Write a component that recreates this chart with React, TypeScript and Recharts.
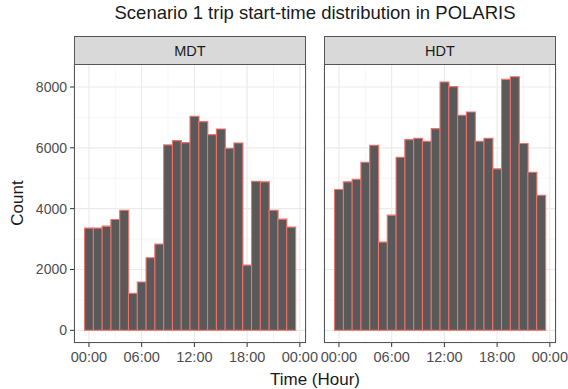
import { BarChart, Bar, XAxis, YAxis, CartesianGrid } from 'recharts';

const hours = [0, 1, 2, 3, 4, 5, 6, 7, 8, 9, 10, 11, 12, 13, 14, 15, 16, 17, 18, 19, 20, 21, 22, 23];
const mdtCounts = [3360, 3360, 3425, 3645, 3950, 1215, 1587, 2386, 2835, 6096, 6238, 6172, 7037, 6862, 6435, 6621, 5986, 6161, 2145, 4903, 4881, 3950, 3655, 3393];
const hdtCounts = [4629, 4881, 4968, 5527, 6085, 2900, 3787, 5691, 6271, 6315, 6216, 6632, 8164, 8011, 7070, 7179, 6216, 6315, 5308, 8252, 8339, 6140, 5198, 4443];
const xTicks = [0, 6, 12, 18, 24];
const xMinorTicks = [3, 9, 15, 21];
const yTicks = [0, 2000, 4000, 6000, 8000];
const yMinorTicks = [1000, 3000, 5000, 7000];

const W = 568;
const H = 389;
const PLOT_TOP = 64;
const PLOT_BOTTOM = 343;
const PLOT_W = 232;
const X_AXIS_H = 30;
const FONT = '"Liberation Sans", Arial, sans-serif';

const yMax = Math.max(...mdtCounts, ...hdtCounts);
const yDomain = [-yMax * 0.05, yMax * 1.05];
const xDomain = [-1.7, 24.7];
const band = PLOT_W / 26.4;

const fmtHour = (v: number) => `${String(Math.round(v) % 24).padStart(2, '0')}:00`;

function Panel({ label, values, plotLeft, showY }: { label: string; values: number[]; plotLeft: number; showY: boolean }) {
  const data = hours.map((h, i) => ({ hour: h, count: values[i] }));
  const yW = 60;
  return (
    <>
      <div style={{ position: 'absolute', left: 0, top: 0 }}>
        <BarChart
          width={W}
          height={H}
          data={data}
          margin={{ top: PLOT_TOP, bottom: H - PLOT_BOTTOM - X_AXIS_H, left: showY ? plotLeft - yW : plotLeft, right: W - plotLeft - PLOT_W }}
          barCategoryGap={0}
          barGap={0}
        >
          <XAxis
            xAxisId="t"
            dataKey="hour"
            type="number"
            scale="linear"
            domain={xDomain}
            ticks={xTicks}
            interval={0}
            allowDataOverflow
            tickFormatter={fmtHour}
            height={X_AXIS_H}
            axisLine={false}
            tickSize={4}
            tickMargin={5}
            tickLine={{ stroke: '#333333' }}
            tick={{ fill: '#4d4d4d', fontSize: 14.5, fontFamily: FONT }}
          />
          <XAxis xAxisId="cat" dataKey="hour" type="category" hide height={0} padding={{ left: band * 1.2, right: band * 1.2 }} />
          <XAxis xAxisId="m" dataKey="hour" type="number" scale="linear" domain={xDomain} ticks={xMinorTicks} allowDataOverflow hide height={0} />
          <YAxis
            yAxisId="y"
            type="number"
            domain={yDomain}
            ticks={yTicks}
            interval={0}
            allowDataOverflow
            hide={!showY}
            width={showY ? yW : 0}
            axisLine={false}
            tickSize={4}
            tickMargin={3}
            tickLine={{ stroke: '#333333' }}
            tick={{ fill: '#4d4d4d', fontSize: 14, fontFamily: FONT }}
          />
          <YAxis yAxisId="ym" type="number" domain={yDomain} ticks={yMinorTicks} allowDataOverflow hide width={0} />
          <CartesianGrid xAxisId="m" yAxisId="ym" stroke="#f0f0f0" strokeWidth={0.6} />
          <CartesianGrid xAxisId="t" yAxisId="y" stroke="#ebebeb" strokeWidth={1.2} />
          <Bar
            xAxisId="cat"
            yAxisId="y"
            dataKey="count"
            fill="#595959"
            stroke="#f4706a"
            strokeWidth={1.1}
            isAnimationActive={false}
          />
        </BarChart>
      </div>
      <div
        style={{
          position: 'absolute',
          left: plotLeft,
          top: PLOT_TOP,
          width: PLOT_W,
          height: PLOT_BOTTOM - PLOT_TOP,
          border: '1px solid #555',
          boxSizing: 'border-box',
          pointerEvents: 'none',
        }}
      />
      <div
        style={{
          position: 'absolute',
          left: plotLeft,
          top: 36,
          width: PLOT_W,
          height: PLOT_TOP - 36 + 1,
          background: '#d9d9d9',
          border: '1px solid #555',
          boxSizing: 'border-box',
          display: 'flex',
          alignItems: 'center',
          justifyContent: 'center',
          fontSize: 14.5,
          color: '#1a1a1a',
          fontFamily: FONT,
        }}
      >
        {label}
      </div>
    </>
  );
}

export default function App() {
  return (
    <div style={{ position: 'absolute', left: 0, top: 0, width: W, height: H, background: '#fff', fontFamily: FONT }}>
      <Panel label="MDT" values={mdtCounts} plotLeft={74} showY />
      <Panel label="HDT" values={hdtCounts} plotLeft={324} showY={false} />
      <div style={{ position: 'absolute', left: 74, width: 482, top: 2, textAlign: 'center', fontSize: 18.5, color: '#1a1a1a' }}>
        Scenario 1 trip start-time distribution in POLARIS
      </div>
      <div style={{ position: 'absolute', left: 74, width: 482, top: 370, textAlign: 'center', fontSize: 17, color: '#1a1a1a' }}>
        Time (Hour)
      </div>
      <div
        style={{
          position: 'absolute',
          left: 18,
          top: 203,
          transform: 'translate(-50%, -50%) rotate(-90deg)',
          fontSize: 17,
          color: '#1a1a1a',
          whiteSpace: 'nowrap',
        }}
      >
        Count
      </div>
    </div>
  );
}
